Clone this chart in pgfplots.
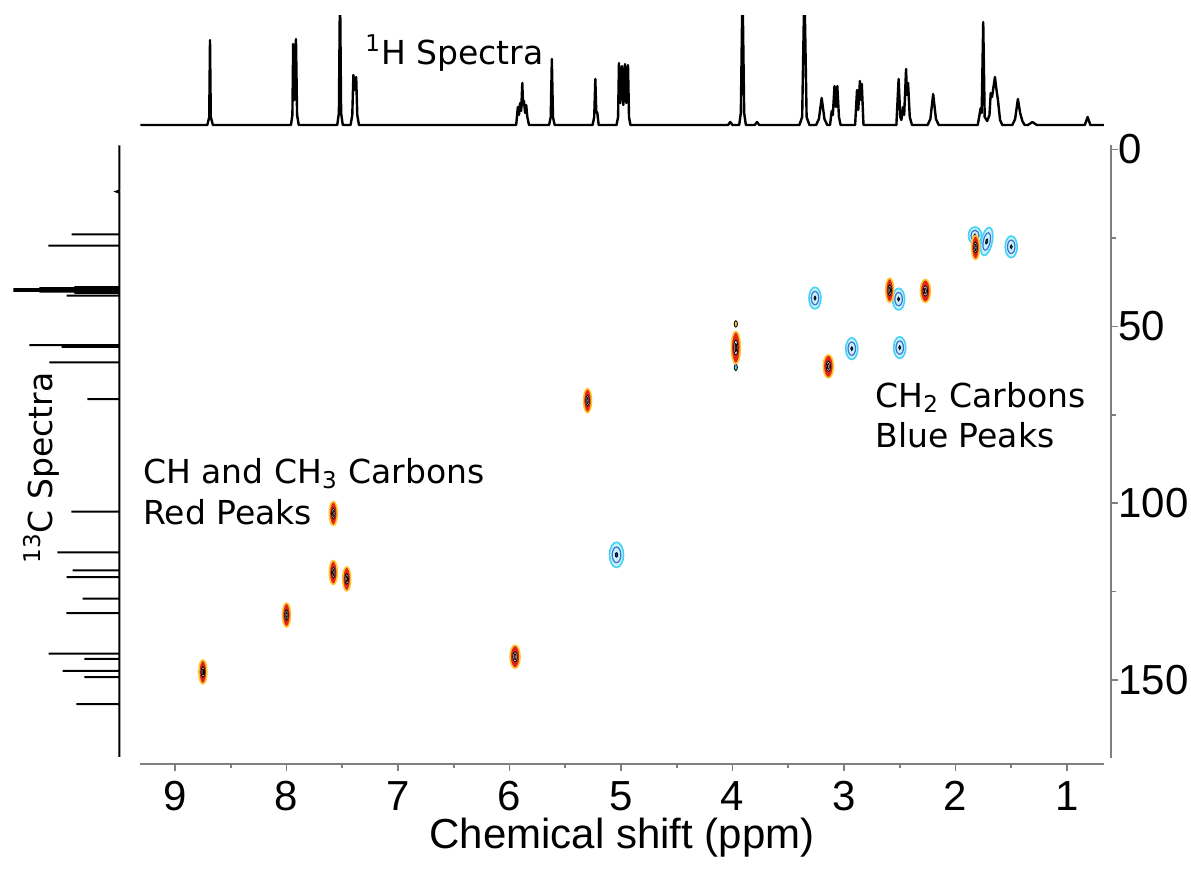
\documentclass[border=0pt]{standalone}
\usepackage{pgfplots}
\pgfplotsset{compat=1.18}
\usepackage{pgfplotstable}
\usepackage{fontspec}
\setmainfont{DejaVu Sans}
\newfontfamily\arialfont{Liberation Sans}

\definecolor{pkyel}{HTML}{FFC52E}
\definecolor{pkred}{HTML}{E2231A}
\definecolor{pkpink}{HTML}{F28A8A}
\definecolor{pkdred}{HTML}{A0100F}
\definecolor{pkcyan}{HTML}{45D3F3}
\definecolor{pkblue}{HTML}{3F6FD0}
\definecolor{pkdblue}{HTML}{1C3C8C}
\definecolor{axgray}{HTML}{7F7F7F}

% CH / CH3 cross peaks (red)
\pgfplotstableread{
x y
7.58 102.9
7.58 119.6
7.46 121.4
8.00 131.6
8.75 147.7
5.30 71.0
1.82 27.7
2.59 39.8
}\redA
\pgfplotstableread{
x y
3.14 61.3
2.27 40.0
5.95 143.4
}\redB
\pgfplotstableread{
x y
3.97 56.0
}\redC
% CH2 cross peaks (blue)
\pgfplotstableread{
x y
3.26 42.0
2.51 42.3
2.93 56.3
2.50 56.0
1.50 27.5
}\blueA
\pgfplotstableread{
x y
5.04 114.6
}\blueB
\pgfplotstableread{
x y
1.825 24.3
}\blueC
\pgfplotstableread{
x y
1.72 26.0
}\blueD

\newcommand\redpeaks[4]{%
 \addplot[only marks, mark=*, mark size=#2, mark options={yscale=#3, draw=pkyel, fill=pkred, line width=0.8pt}] table[x=x,y=y]{#1};
 \addplot[only marks, mark=*, mark size={0.45*#2}, mark options={yscale=#3, draw=none, fill=white}] table[x=x,y=y]{#1};
 \addplot[only marks, mark=*, mark size={0.2*#2}, mark options={yscale=1.3*#3, draw=none, fill=#4}] table[x=x,y=y]{#1};
}
\newcommand\bluepeaks[4]{%
 \addplot[only marks, mark=*, mark size=#2, mark options={rotate=#4, yscale=#3, draw=pkcyan, fill=pkcyan!30!white, line width=0.8pt}] table[x=x,y=y]{#1};
 \addplot[only marks, mark=o, mark size={0.62*#2}, mark options={rotate=#4, yscale=#3, draw=pkblue, line width=0.6pt}] table[x=x,y=y]{#1};
 \addplot[only marks, mark=*, mark size={0.18*#2}, mark options={rotate=#4, yscale=#3, draw=none, fill=pkdblue}] table[x=x,y=y]{#1};
}

\begin{document}
\begin{tikzpicture}
\useasboundingbox (0,0) rectangle (595.5pt,-434.5pt);

% ---- 1H spectrum (top)
\begin{axis}[at={(70pt,-64pt)}, anchor=south west, scale only axis,
  width=482pt, height=56.5pt, xmin=0.668, xmax=9.314, x dir=reverse,
  ymin=-3, ymax=110, hide axis]
\addplot[black, line width=1.2pt, line join=round, sharp plot] coordinates {
(9.31,0)
(8.71,0)(8.693,8)(8.686,85)(8.679,8)(8.66,0)
(7.96,0)(7.947,10)(7.94,81)(7.928,25)(7.915,86)(7.905,10)(7.89,0)
(7.545,0)(7.53,12)(7.52,140)(7.51,12)(7.495,0)
(7.425,0)(7.41,10)(7.40,50)(7.388,35)(7.375,48)(7.365,10)(7.35,0)
(5.94,0)(5.925,18)(5.915,10)(5.905,22)(5.895,14)(5.885,42)(5.878,20)(5.87,24)(5.86,12)(5.85,20)(5.84,8)(5.825,0)
(5.645,0)(5.63,8)(5.62,66)(5.61,8)(5.595,0)
(5.255,0)(5.24,8)(5.23,46)(5.222,14)(5.212,12)(5.20,0)
(5.04,0)(5.026,8)(5.018,62)(5.005,22)(4.991,59)(4.978,20)(4.964,61)(4.951,22)(4.937,60)(4.928,8)(4.915,0)
(4.04,0)(4.02,3)(4.00,0)
(3.94,0)(3.925,12)(3.91,140)(3.895,12)(3.88,0)
(3.80,0)(3.78,3)(3.76,0)
(3.40,0)(3.375,8)(3.355,140)(3.335,8)(3.31,0)
(3.25,0)(3.225,6)(3.20,27)(3.175,6)(3.15,0)
(3.125,0)(3.11,14)(3.10,10)(3.085,39)(3.073,18)(3.06,39)(3.045,8)(3.03,0)
(2.90,0)(2.883,35)(2.872,15)(2.857,44)(2.849,25)(2.84,41)(2.825,0)
(2.53,0)(2.51,46)(2.495,8)(2.485,5)(2.47,18)(2.46,10)(2.443,56)(2.435,30)(2.425,42)(2.41,8)(2.39,0)
(2.25,0)(2.225,6)(2.20,31)(2.175,6)(2.15,0)
(1.80,0)(1.774,17)(1.765,12)(1.751,103)(1.738,8)(1.715,4)(1.695,10)(1.684,32)(1.672,28)(1.646,48)(1.632,35)(1.619,25)(1.60,5)(1.58,0)
(1.49,0)(1.465,6)(1.44,26)(1.42,12)(1.40,4)(1.38,0)
(1.35,0)(1.31,3)(1.27,0)
(0.84,0)(0.815,8)(0.79,0)
(0.668,0)
};
\end{axis}

% ---- 13C spectrum (left)
\begin{axis}[at={(4.65pt,-379pt)}, anchor=south west, scale only axis,
  width=56pt, height=306.5pt, xmin=-2, xmax=110, x dir=reverse,
  ymin=-1.272, ymax=172.04, y dir=reverse, hide axis, clip=false]
\addplot[black, line width=1pt, line join=miter, sharp plot] coordinates {
(0,-1.2)
(0,11.6)(3,11.9)(0,12.2)
(0,24.0)(47.6,24.0)(0,24.0)
(0,27.2)(71,27.2)(0,27.2)
(0,38.9)(45,38.9)(0,38.9)
(0,39.2)(80,39.2)(0,39.2)
(0,39.45)(106,39.45)(0,39.45)
(0,39.7)(106,39.7)(0,39.7)
(0,39.95)(106,39.95)(0,39.95)
(0,40.2)(80,40.2)(0,40.2)
(0,40.5)(45,40.5)(0,40.5)
(0,41.3)(52.6,41.3)(0,41.3)
(0,55.3)(90,55.3)(0,55.3)
(0,55.8)(57.6,55.8)(0,55.8)
(0,60.2)(70,60.2)(0,60.2)
(0,70.6)(32,70.6)(0,70.6)
(0,102.4)(48,102.4)(0,102.4)
(0,113.9)(62,113.9)(0,113.9)
(0,119.0)(46.6,119.0)(0,119.0)
(0,120.9)(52.6,120.9)(0,120.9)
(0,127.0)(36.6,127.0)(0,127.0)
(0,131.1)(53,131.1)(0,131.1)
(0,142.5)(70.6,142.5)(0,142.5)
(0,144.0)(35,144.0)(0,144.0)
(0,147.4)(56.6,147.4)(0,147.4)
(0,149.2)(35,149.2)(0,149.2)
(0,156.8)(43,156.8)(0,156.8)
(0,171.7)
};
\end{axis}

% ---- x axis (bottom)
\begin{axis}[at={(70pt,-382pt)}, anchor=south west, scale only axis,
  width=482pt, height=309.5pt, xmin=0.668, xmax=9.314, x dir=reverse,
  ymin=0, ymax=1, axis x line=bottom, axis y line=none,
  axis line style={draw=axgray, line width=1pt, -},
  xtick={1,2,...,9}, minor xtick={1.5,2.5,...,8.5},
  tick align=outside, major tick length=3.5pt, minor tick length=2pt,
  every tick/.style={axgray, line width=0.8pt},
  /pgf/number format/assume math mode=true,
  xticklabel style={font=\arialfont\fontsize{21}{24}\selectfont, inner sep=0pt, anchor=north, yshift=-5pt},
  xlabel={Chemical shift (ppm)},
  xlabel style={font=\arialfont\fontsize{21}{24}\selectfont, at={(axis description cs:0.5,0)}, anchor=north, inner sep=0pt, yshift=-27pt}]
\addplot[draw=none] coordinates {(5,0.5)};
\end{axis}

% ---- y axis (right)
\begin{axis}[at={(555.5pt,-379pt)}, anchor=south east, scale only axis,
  width=20pt, height=306.5pt, xmin=0, xmax=1,
  ymin=-1.272, ymax=172.04, y dir=reverse,
  axis y line=right, axis x line=none,
  axis line style={draw=axgray, line width=1pt, -},
  ytick={0,50,100,150}, minor ytick={25,75,125},
  tick align=outside, major tick length=3.5pt, minor tick length=2.5pt,
  every tick/.style={axgray, line width=0.8pt},
  /pgf/number format/assume math mode=true,
  yticklabel style={font=\arialfont\fontsize{21}{24}\selectfont, inner sep=0pt, anchor=west, xshift=0pt}]
\addplot[draw=none] coordinates {(0.5,50)};
\end{axis}

% ---- HSQC cross peaks
\begin{axis}[at={(70pt,-382pt)}, anchor=south west, scale only axis,
  width=482pt, height=309.5pt, xmin=0.668, xmax=9.314, x dir=reverse,
  ymin=-1.272, ymax=173.73, y dir=reverse, hide axis, clip=false]
\addplot[only marks, mark=*, mark size=0.8pt, mark options={yscale=2, draw=none, fill=pkyel}] coordinates {(3.97,49.3)};
\addplot[only marks, mark=*, mark size=0.8pt, mark options={yscale=2, draw=none, fill=pkcyan}] coordinates {(3.97,61.6)};
\bluepeaks{\blueA}{3pt}{1.8}{0}
\bluepeaks{\blueB}{3.5pt}{1.8}{0}
\bluepeaks{\blueC}{3.25pt}{1.3}{0}
\bluepeaks{\blueD}{2.75pt}{2.6}{-12}
\redpeaks{\redA}{2pt}{3.0}{pkpink}
\redpeaks{\redB}{2.5pt}{2.3}{pkpink}
\redpeaks{\redC}{2.25pt}{3.6}{pkdred}
\end{axis}

% ---- annotations
\begin{scope}[every node/.style={inner sep=0pt, font=\fontsize{16.5}{20}\selectfont}]
\node[anchor=base west] at (182.5pt,-32pt) {\textsuperscript{1}H Spectra};
\node[anchor=base west] at (71.5pt,-241.5pt) {CH and CH\textsubscript{3} Carbons};
\node[anchor=base west] at (71.5pt,-262pt) {Red Peaks};
\node[anchor=base west] at (437.5pt,-203.5pt) {CH\textsubscript{2} Carbons};
\node[anchor=base west] at (437.5pt,-223.5pt) {Blue Peaks};
\node[anchor=base, rotate=90] at (26.5pt,-234pt) {\textsuperscript{13}C Spectra};
\end{scope}
\end{tikzpicture}
\end{document}
